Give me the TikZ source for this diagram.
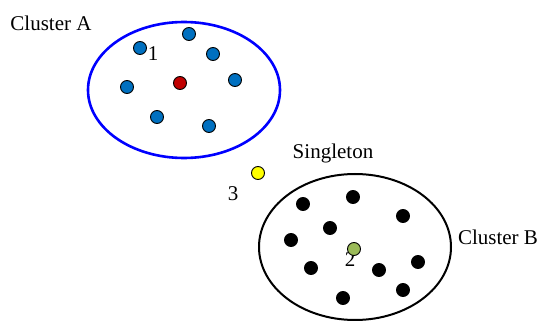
\documentclass[tikz,border=0pt]{standalone}
\usepackage{fontspec}
\setmainfont{Liberation Serif}
\definecolor{dotblue}{HTML}{0070C0}
\definecolor{dotred}{HTML}{C00000}
\definecolor{dotgreen}{HTML}{9BBB59}
\definecolor{dotyellow}{HTML}{FFFF00}
\begin{document}
\begin{tikzpicture}[x=1pt,y=-1pt,
  dot/.style={circle,draw=black,line width=0.9pt,minimum size=13pt,inner sep=0pt},
  bdot/.style={dot,fill=dotblue},
  kdot/.style={dot,fill=black},
  lbl/.style={font=\fontsize{21}{25}\selectfont,inner sep=0pt}]
\useasboundingbox (0,0) rectangle (539,321);
% labels (drawn first so dots sit on top)
\node[lbl] (la) at (51,23) {Cluster A};
\node[lbl] (lb) at (498,237) {Cluster B};
\node[lbl] (ls) at (333,153) {Singleton};
\node[lbl] (n1) at (153,54) {1};
\node[lbl] (n2) at (350,260) {2};
\node[lbl] (n3) at (233,194) {3};
% clusters
\draw[blue,line width=2.6pt] (184,90) ellipse [x radius=96,y radius=68];
\draw[black,line width=2pt] (355,247) ellipse [x radius=96,y radius=73];
% cluster A dots
\node[bdot] (a1) at (140,48) {};
\node[bdot] (a2) at (189,34) {};
\node[bdot] (a3) at (213,54) {};
\node[bdot] (a4) at (235,80) {};
\node[bdot] (a5) at (127,87) {};
\node[bdot] (a6) at (157,117) {};
\node[bdot] (a7) at (209,126) {};
\node[dot,fill=dotred] (ac) at (180,83) {};
% cluster B dots
\node[kdot] (b1) at (303,204) {};
\node[kdot] (b2) at (353,197) {};
\node[kdot] (b3) at (403,216) {};
\node[kdot] (b4) at (330,228) {};
\node[kdot] (b5) at (291,240) {};
\node[kdot] (b6) at (311,268) {};
\node[kdot] (b7) at (379,270) {};
\node[kdot] (b8) at (418,262) {};
\node[kdot] (b9) at (343,298) {};
\node[kdot] (b10) at (403,290) {};
\node[dot,fill=dotgreen] (bc) at (354,249) {};
% singleton
\node[dot,fill=dotyellow] (s) at (258,173) {};
\end{tikzpicture}
\end{document}
